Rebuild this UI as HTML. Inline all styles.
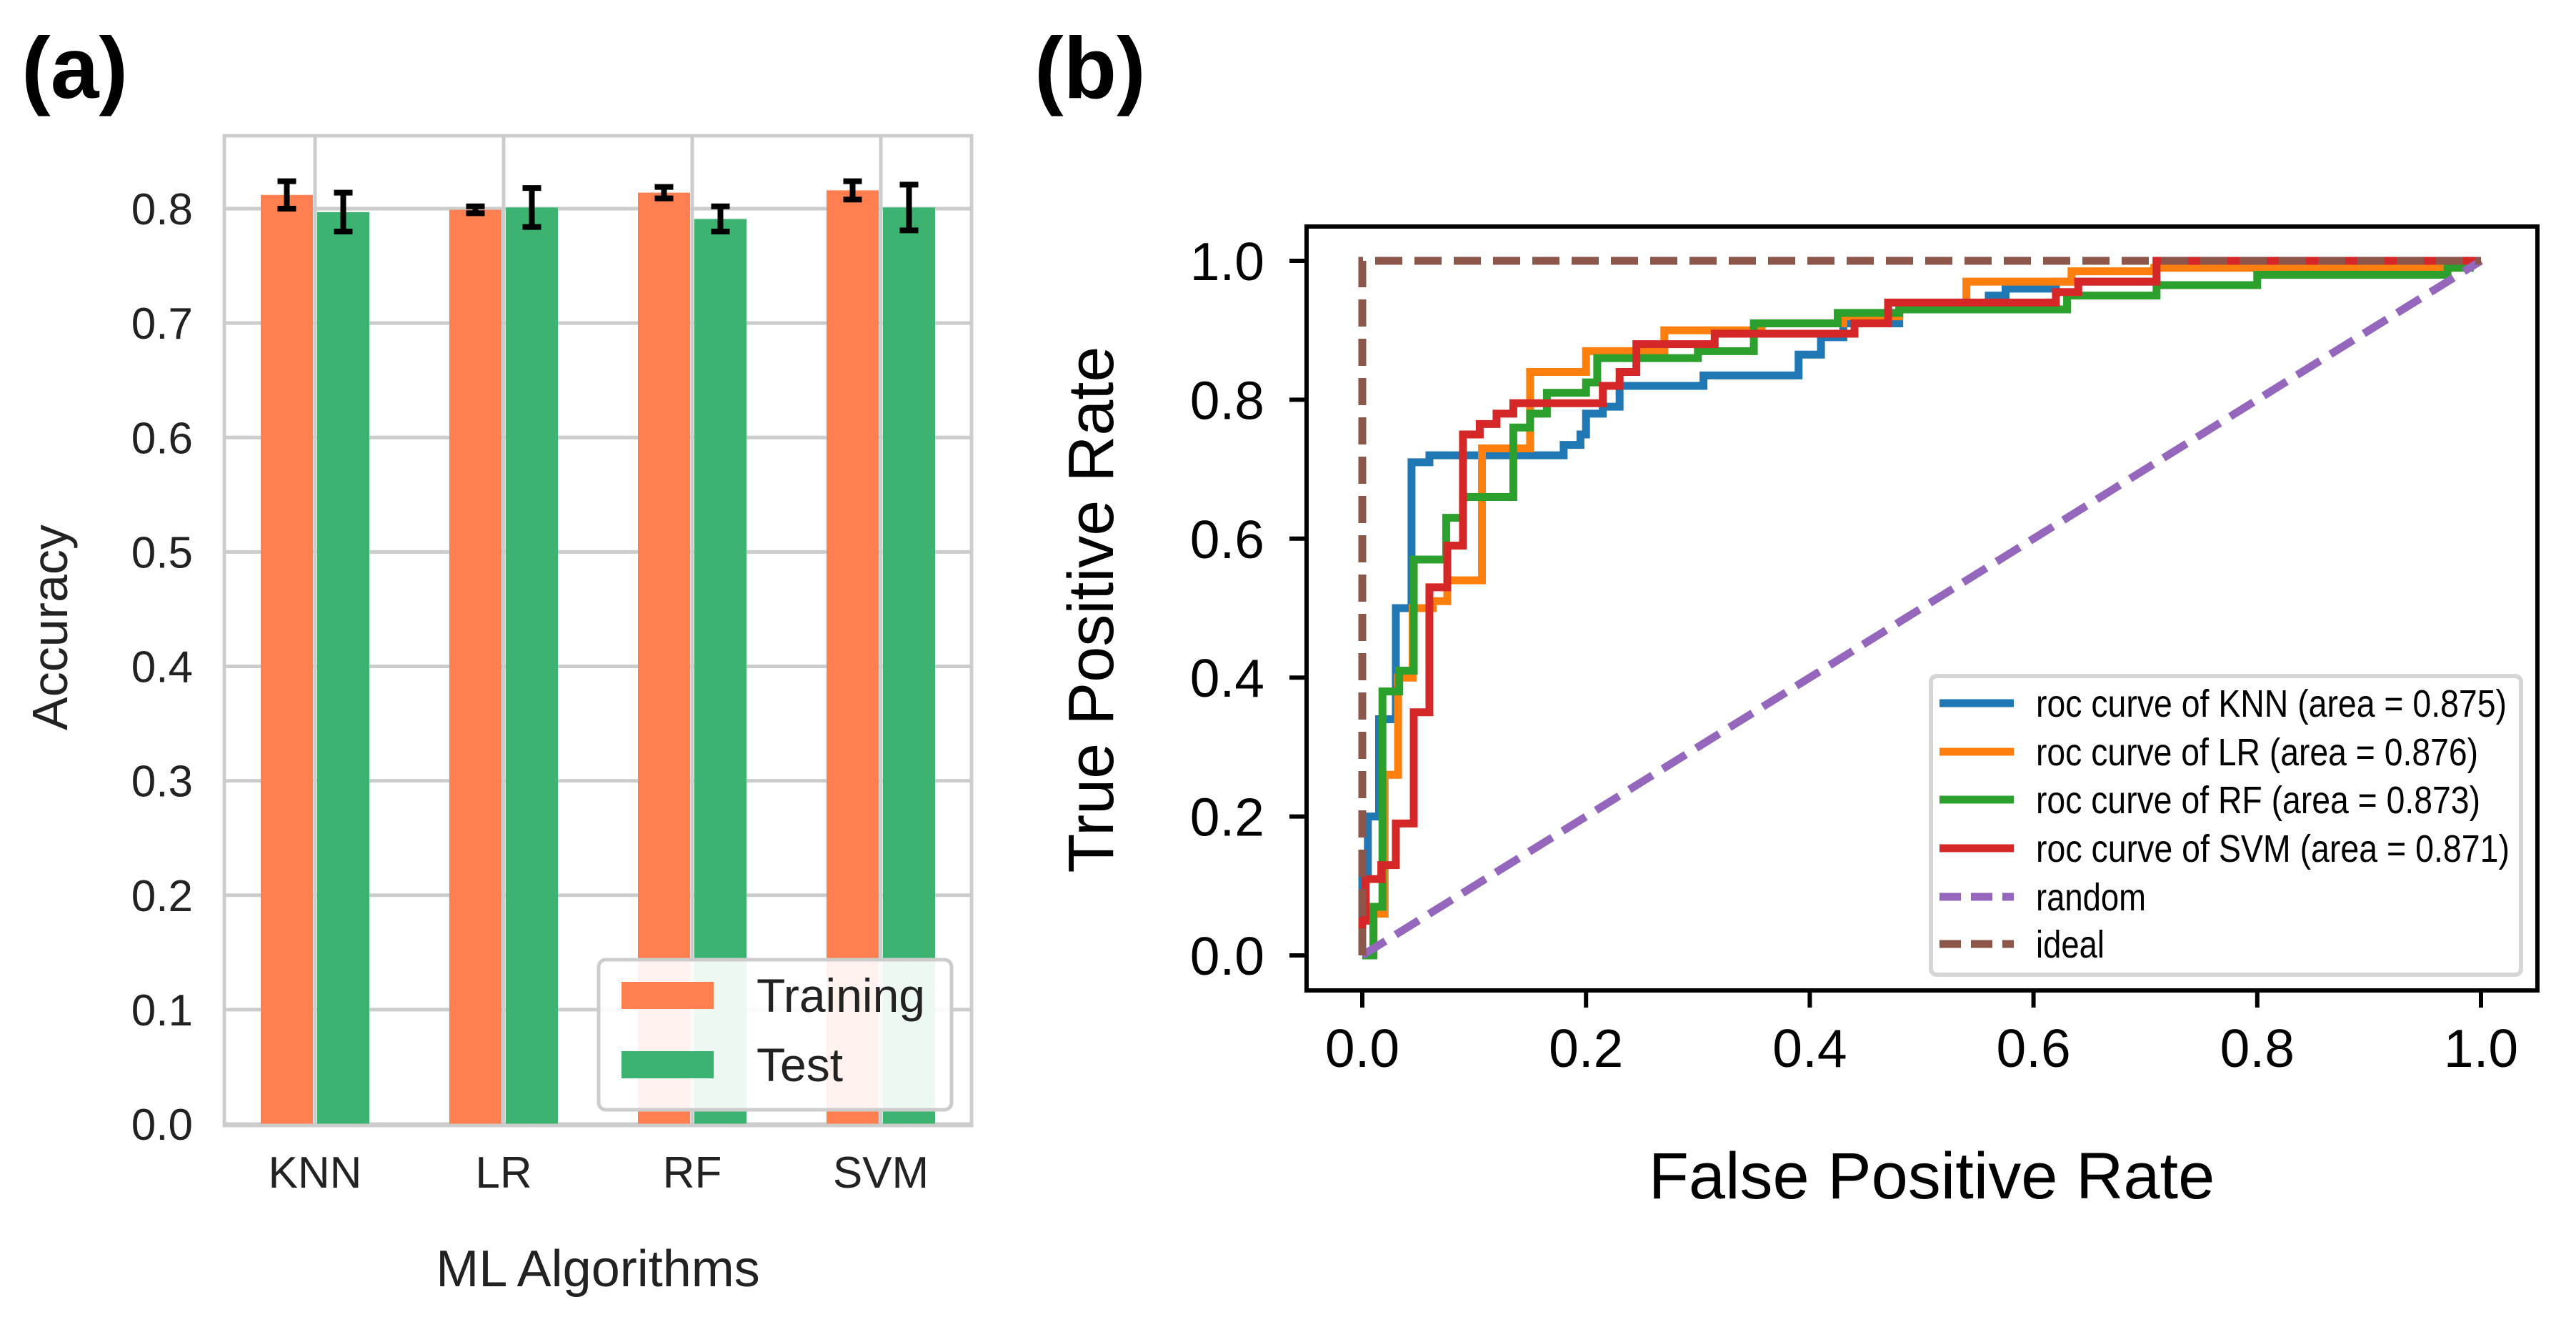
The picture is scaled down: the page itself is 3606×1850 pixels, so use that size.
<!DOCTYPE html>
<html><head><meta charset="utf-8"><style>
html,body{margin:0;padding:0;background:#fff;}
svg{display:block;font-family:"Liberation Sans",Arial,sans-serif;}
</style></head><body>
<svg id="fig" width="3606" height="1850" viewBox="0 0 3606 1850" xmlns="http://www.w3.org/2000/svg">
<g id="pa"></g>
<g id="pb"></g>
</svg>
<script>
// ---- Panel (a) data ----
const categories = ["KNN","LR","RF","SVM"];
const trainAcc = [0.812,0.799,0.814,0.816];
const testAcc = [0.797,0.801,0.791,0.801];
const trainErr = [0.012,0.003,0.005,0.008];
const testErr = [0.017,0.017,0.011,0.020];
const aTicks = ["0.0","0.1","0.2","0.3","0.4","0.5","0.6","0.7","0.8"];
// ---- Panel (b) data ----
const knnFpr = [0,0.005,0.015,0.03,0.044,0.06,0.18,0.195,0.2,0.215,0.23,0.305,0.39,0.41,0.43,0.48,0.56,0.575,0.62,0.71,1.0];
const knnTpr = [0.12,0.2,0.34,0.5,0.71,0.72,0.735,0.75,0.78,0.79,0.82,0.835,0.865,0.89,0.91,0.93,0.95,0.96,0.97,1.0,1.0];
const lrFpr = [0.01,0.02,0.032,0.045,0.063,0.076,0.107,0.15,0.2,0.27,0.357,0.43,0.48,0.54,0.634,0.708,0.98,1.0];
const lrTpr = [0.06,0.26,0.4,0.5,0.51,0.54,0.73,0.84,0.87,0.9,0.91,0.92,0.93,0.97,0.985,0.99,1.0,1.0];
const rfFpr = [0.01,0.018,0.033,0.046,0.075,0.09,0.135,0.15,0.165,0.2,0.21,0.3,0.35,0.425,0.48,0.63,0.71,0.8,0.97,0.99,1.0];
const rfTpr = [0.07,0.38,0.41,0.57,0.63,0.66,0.76,0.78,0.81,0.825,0.86,0.87,0.91,0.925,0.93,0.95,0.965,0.98,0.99,1.0,1.0];
const svmFpr = [0,0.003,0.017,0.03,0.046,0.06,0.076,0.09,0.105,0.12,0.135,0.215,0.23,0.245,0.315,0.44,0.47,0.62,0.64,0.71,1.0];
const svmTpr = [0.05,0.11,0.13,0.19,0.35,0.53,0.59,0.75,0.765,0.78,0.795,0.82,0.84,0.88,0.895,0.91,0.94,0.955,0.97,1.0,1.0];
const bTicks = ["0.0","0.2","0.4","0.6","0.8","1.0"];
const legendLabels = ["roc curve of KNN (area = 0.875)","roc curve of LR (area = 0.876)","roc curve of RF (area = 0.873)","roc curve of SVM (area = 0.871)","random","ideal"];

const NS="http://www.w3.org/2000/svg";
function mk(parent,tag,attrs,text){const e=document.createElementNS(NS,tag);for(const k in attrs)e.setAttribute(k,attrs[k]);if(text!==undefined)e.textContent=text;parent.appendChild(e);return e;}

// ===== Panel A =====
const pa=document.getElementById('pa');
const aL=314,aR=1360,aT=190,aB=1575;
const ay=v=>1573-v*(1573-292)/0.8;
const ax=i=>441+i*264;
const bw=73,gap=6;
let e=mk(pa,'rect',{x:aL,y:aT,width:aR-aL,height:aB-aT,fill:'#fff'});


aTicks.forEach((t,i)=>{const v=i*0.1;const y=ay(v);
 let g=mk(pa,'line',{x1:aL,x2:aR,y1:y,y2:y,stroke:'#cccccc','stroke-width':5});
 
 
 let tx=mk(pa,'text',{x:270,y:y+22,'font-size':62,'text-anchor':'end',fill:'#222'},t);
 
 
});
categories.forEach((c,i)=>{
 let g=mk(pa,'line',{x1:ax(i),x2:ax(i),y1:aT,y2:aB,stroke:'#cccccc','stroke-width':5});
 
 
 let tx=mk(pa,'text',{x:ax(i),y:1662,'font-size':62,'text-anchor':'middle',fill:'#222'},c);
 
 
});
categories.forEach((c,i)=>{
 const x1=ax(i)-gap/2-bw, x2=ax(i)+gap/2;
 let r1=mk(pa,'rect',{x:x1,y:ay(trainAcc[i]),width:bw,height:ay(0)-ay(trainAcc[i]),fill:'#ff7f50'});
 
 
 let r2=mk(pa,'rect',{x:x2,y:ay(testAcc[i]),width:bw,height:ay(0)-ay(testAcc[i]),fill:'#3cb371'});
 
 
 [[x1+bw/2,trainAcc[i],trainErr[i]],[x2+bw/2,testAcc[i],testErr[i]]].forEach(([cx,v,er])=>{
  let eb=mk(pa,'path',{d:`M${cx},${ay(v+er)}V${ay(v-er)}M${cx-13},${ay(v+er)}H${cx+13}M${cx-13},${ay(v-er)}H${cx+13}`,stroke:'#000','stroke-width':8,fill:'none'});
  
  
 });
});
e=mk(pa,'rect',{x:aL,y:aT,width:aR-aL,height:aB-aT,fill:'none',stroke:'#cccccc','stroke-width':5});


// legend a
const lgA=mk(pa,'g',{});


mk(lgA,'rect',{x:838,y:1343,width:494,height:210,rx:10,fill:'#fff','fill-opacity':0.9,stroke:'#cccccc','stroke-width':5});
[['Training','#ff7f50',1393],['Test','#3cb371',1490]].forEach(([l,c,y])=>{
 let en=mk(lgA,'g',{});
 
 
 mk(en,'rect',{x:870,y:y-19,width:129,height:38,fill:c});
 mk(en,'text',{x:1059,y:y+23,'font-size':66,fill:'#222'},l);
});
e=mk(pa,'text',{x:0,y:0,'font-size':70,'text-anchor':'middle',fill:'#222',transform:'translate(94,878) rotate(-90)'},'Accuracy');


e=mk(pa,'text',{x:837,y:1800,'font-size':72,'text-anchor':'middle',fill:'#222'},'ML Algorithms');


e=mk(pa,'text',{x:30,y:137,'font-size':122,'font-weight':'bold',fill:'#000'},'(a)');



// ===== Panel B =====
const pb=document.getElementById('pb');
const bL=1829,bR=3552,bT=317,bB=1386;
const bx=v=>1907+v*(3473-1907);
const by=v=>1337-v*(1337-365);
bTicks.forEach((t,i)=>{const v=i*0.2;
 let tk=mk(pb,'line',{x1:bL,x2:bL-24,y1:by(v),y2:by(v),stroke:'#000','stroke-width':6});
 
 
 let tx=mk(pb,'text',{x:1770,y:by(v)+27,'font-size':75,'text-anchor':'end',fill:'#000'},t);
 
 
 let tk2=mk(pb,'line',{x1:bx(v),x2:bx(v),y1:bB,y2:bB+24,stroke:'#000','stroke-width':6});
 
 
 let tx2=mk(pb,'text',{x:bx(v),y:1493,'font-size':75,'text-anchor':'middle',fill:'#000'},t);
 
 
});
function stepPath(fx,ty){let d=`M${bx(0)},${by(0)}`;let py=0;for(let i=0;i<fx.length;i++){d+=`L${bx(fx[i])},${by(py)}L${bx(fx[i])},${by(ty[i])}`;py=ty[i];}return d;}
const series=[['knn',knnFpr,knnTpr,'#1f77b4'],['lr',lrFpr,lrTpr,'#ff7f0e'],['rf',rfFpr,rfTpr,'#2ca02c'],['svm',svmFpr,svmTpr,'#d62728']];
series.forEach(([n,f,t,c])=>{
 let p=mk(pb,'path',{d:stepPath(f,t),stroke:c,'stroke-width':11,fill:'none','stroke-linejoin':'miter'});
 
 
});
e=mk(pb,'path',{d:`M${bx(0)},${by(0)}L${bx(1)},${by(1)}`,stroke:'#9467bd','stroke-width':11,'stroke-dasharray':'38 17',fill:'none'});


e=mk(pb,'path',{d:`M${bx(0)},${by(0)}L${bx(0)},${by(1)}L${bx(1)},${by(1)}`,stroke:'#8c564b','stroke-width':11,'stroke-dasharray':'38 17',fill:'none'});


e=mk(pb,'rect',{x:bL,y:bT,width:bR-bL,height:bB-bT,fill:'none',stroke:'#000','stroke-width':6});


// legend b
const lgB=mk(pb,'g',{});


mk(lgB,'rect',{x:2703,y:946,width:826,height:418,rx:8,fill:'#fff','fill-opacity':0.9,stroke:'#d6d6d6','stroke-width':6});
const lgColors=['#1f77b4','#ff7f0e','#2ca02c','#d62728','#9467bd','#8c564b'];
const lgY=[984,1052,1119,1187,1255,1321];
const lgW=[659,619,622,663,154,96];
legendLabels.forEach((l,i)=>{
 let en=mk(lgB,'g',{});
 
 
 mk(en,'line',{x1:2715,x2:2819,y1:lgY[i],y2:lgY[i],stroke:lgColors[i],'stroke-width':11,'stroke-dasharray':i>=4?'30 14':'none'});
 mk(en,'text',{x:2850,y:lgY[i]+19,'font-size':54,fill:'#000',textLength:lgW[i],lengthAdjust:'spacingAndGlyphs'},l);
});
e=mk(pb,'text',{x:0,y:0,'font-size':90,'text-anchor':'middle',fill:'#000',transform:'translate(1558,853) rotate(-90)'},'True Positive Rate');


e=mk(pb,'text',{x:2704,y:1677,'font-size':92,'text-anchor':'middle',fill:'#000'},'False Positive Rate');


e=mk(pb,'text',{x:1448,y:137,'font-size':122,'font-weight':'bold',fill:'#000'},'(b)');


</script>
</body></html>
